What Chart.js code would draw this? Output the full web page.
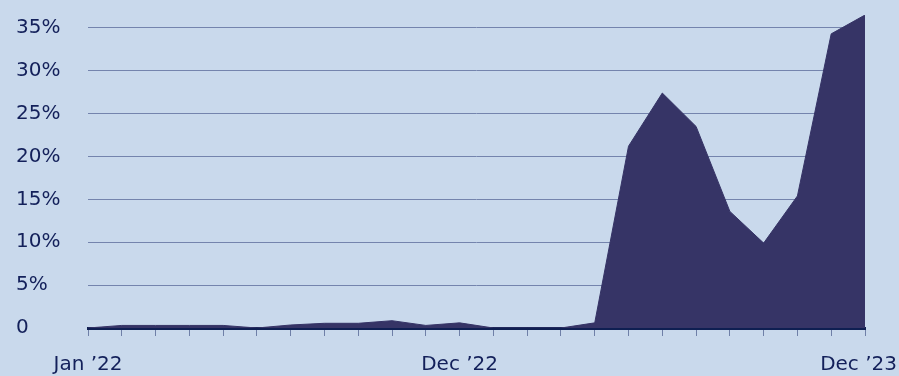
<!DOCTYPE html>
<html lang="en">
<head>
  <meta charset="UTF-8" />
  <title>Monthly share</title>
  <script src="https://cdn.jsdelivr.net/npm/chart.js"></script>
  <style>
    html, body {
      margin: 0;
      padding: 0;
      background: #c9d9ec;
    }
    .wrap {
      width: 899px;
      height: 376px;
    }
  </style>
</head>
<body>
  <div class="wrap">
    <canvas id="areaChart" width="899" height="376"></canvas>
  </div>

  <script>
    const months = [
      'Jan ’22', 'Feb ’22', 'Mar ’22', 'Apr ’22', 'May ’22', 'Jun ’22',
      'Jul ’22', 'Aug ’22', 'Sep ’22', 'Oct ’22', 'Nov ’22', 'Dec ’22',
      'Jan ’23', 'Feb ’23', 'Mar ’23', 'Apr ’23', 'May ’23', 'Jun ’23',
      'Jul ’23', 'Aug ’23', 'Sep ’23', 'Oct ’23', 'Nov ’23', 'Dec ’23'
    ];
    const shares = [
      0, 0.3, 0.3, 0.3, 0.3, 0,
      0.35, 0.55, 0.55, 0.85, 0.3, 0.6,
      0, 0, 0, 0.6, 21.2, 27.4,
      23.5, 13.6, 9.9, 15.4, 34.3, 36.5
    ];
    const shownLabels = ['Jan ’22', 'Dec ’22', 'Dec ’23'];
    const yTicks = [0, 5, 10, 15, 20, 25, 30, 35];

    const textColor = '#13205a';
    const fontFamily = "'DejaVu Sans', sans-serif";

    // draws the few month labels under the axis, kept inside the canvas
    const monthLabels = {
      id: 'monthLabels',
      afterDraw(chart) {
        const ctx = chart.ctx;
        const xScale = chart.scales.x;
        ctx.save();
        ctx.font = '20px ' + fontFamily;
        ctx.fillStyle = textColor;
        ctx.textBaseline = 'alphabetic';
        ctx.textAlign = 'center';
        months.forEach((m, i) => {
          if (!shownLabels.includes(m)) return;
          const w = ctx.measureText(m).width;
          let x = xScale.getPixelForValue(i);
          x = Math.min(x, chart.width - 2 - w / 2);
          ctx.fillText(m, x, xScale.bottom - 6);
        });
        ctx.restore();
      }
    };

    const ctx = document.getElementById('areaChart').getContext('2d');
    new Chart(ctx, {
      type: 'line',
      data: {
        labels: months,
        datasets: [{
          data: shares,
          fill: 'origin',
          backgroundColor: '#363466',
          borderColor: '#363466',
          borderWidth: 1,
          pointRadius: 0,
          tension: 0
        }]
      },
      options: {
        responsive: false,
        animation: false,
        layout: { padding: { left: 16, top: 13, right: 34, bottom: 0 } },
        plugins: {
          legend: { display: false },
          tooltip: { enabled: false }
        },
        scales: {
          x: {
            offset: false,
            grid: {
              drawOnChartArea: false,
              drawTicks: true,
              tickLength: 8,
              color: '#6f80a8'
            },
            border: { display: true, color: '#0f1f52', width: 3 },
            ticks: { display: false },
            afterFit(scale) { scale.height = 48; }
          },
          y: {
            min: 0,
            max: 36.5,
            grid: { color: '#7484ad', lineWidth: 1, drawTicks: false },
            border: { display: false },
            afterBuildTicks(scale) {
              scale.ticks = yTicks.map(v => ({ value: v }));
            },
            ticks: {
              crossAlign: 'far',
              color: textColor,
              font: { family: fontFamily, size: 20 },
              callback: v => (v === 0 ? '0' : v + '%')
            },
            afterFit(scale) { scale.width = 72; }
          }
        }
      },
      plugins: [monthLabels]
    });
  </script>
</body>
</html>
